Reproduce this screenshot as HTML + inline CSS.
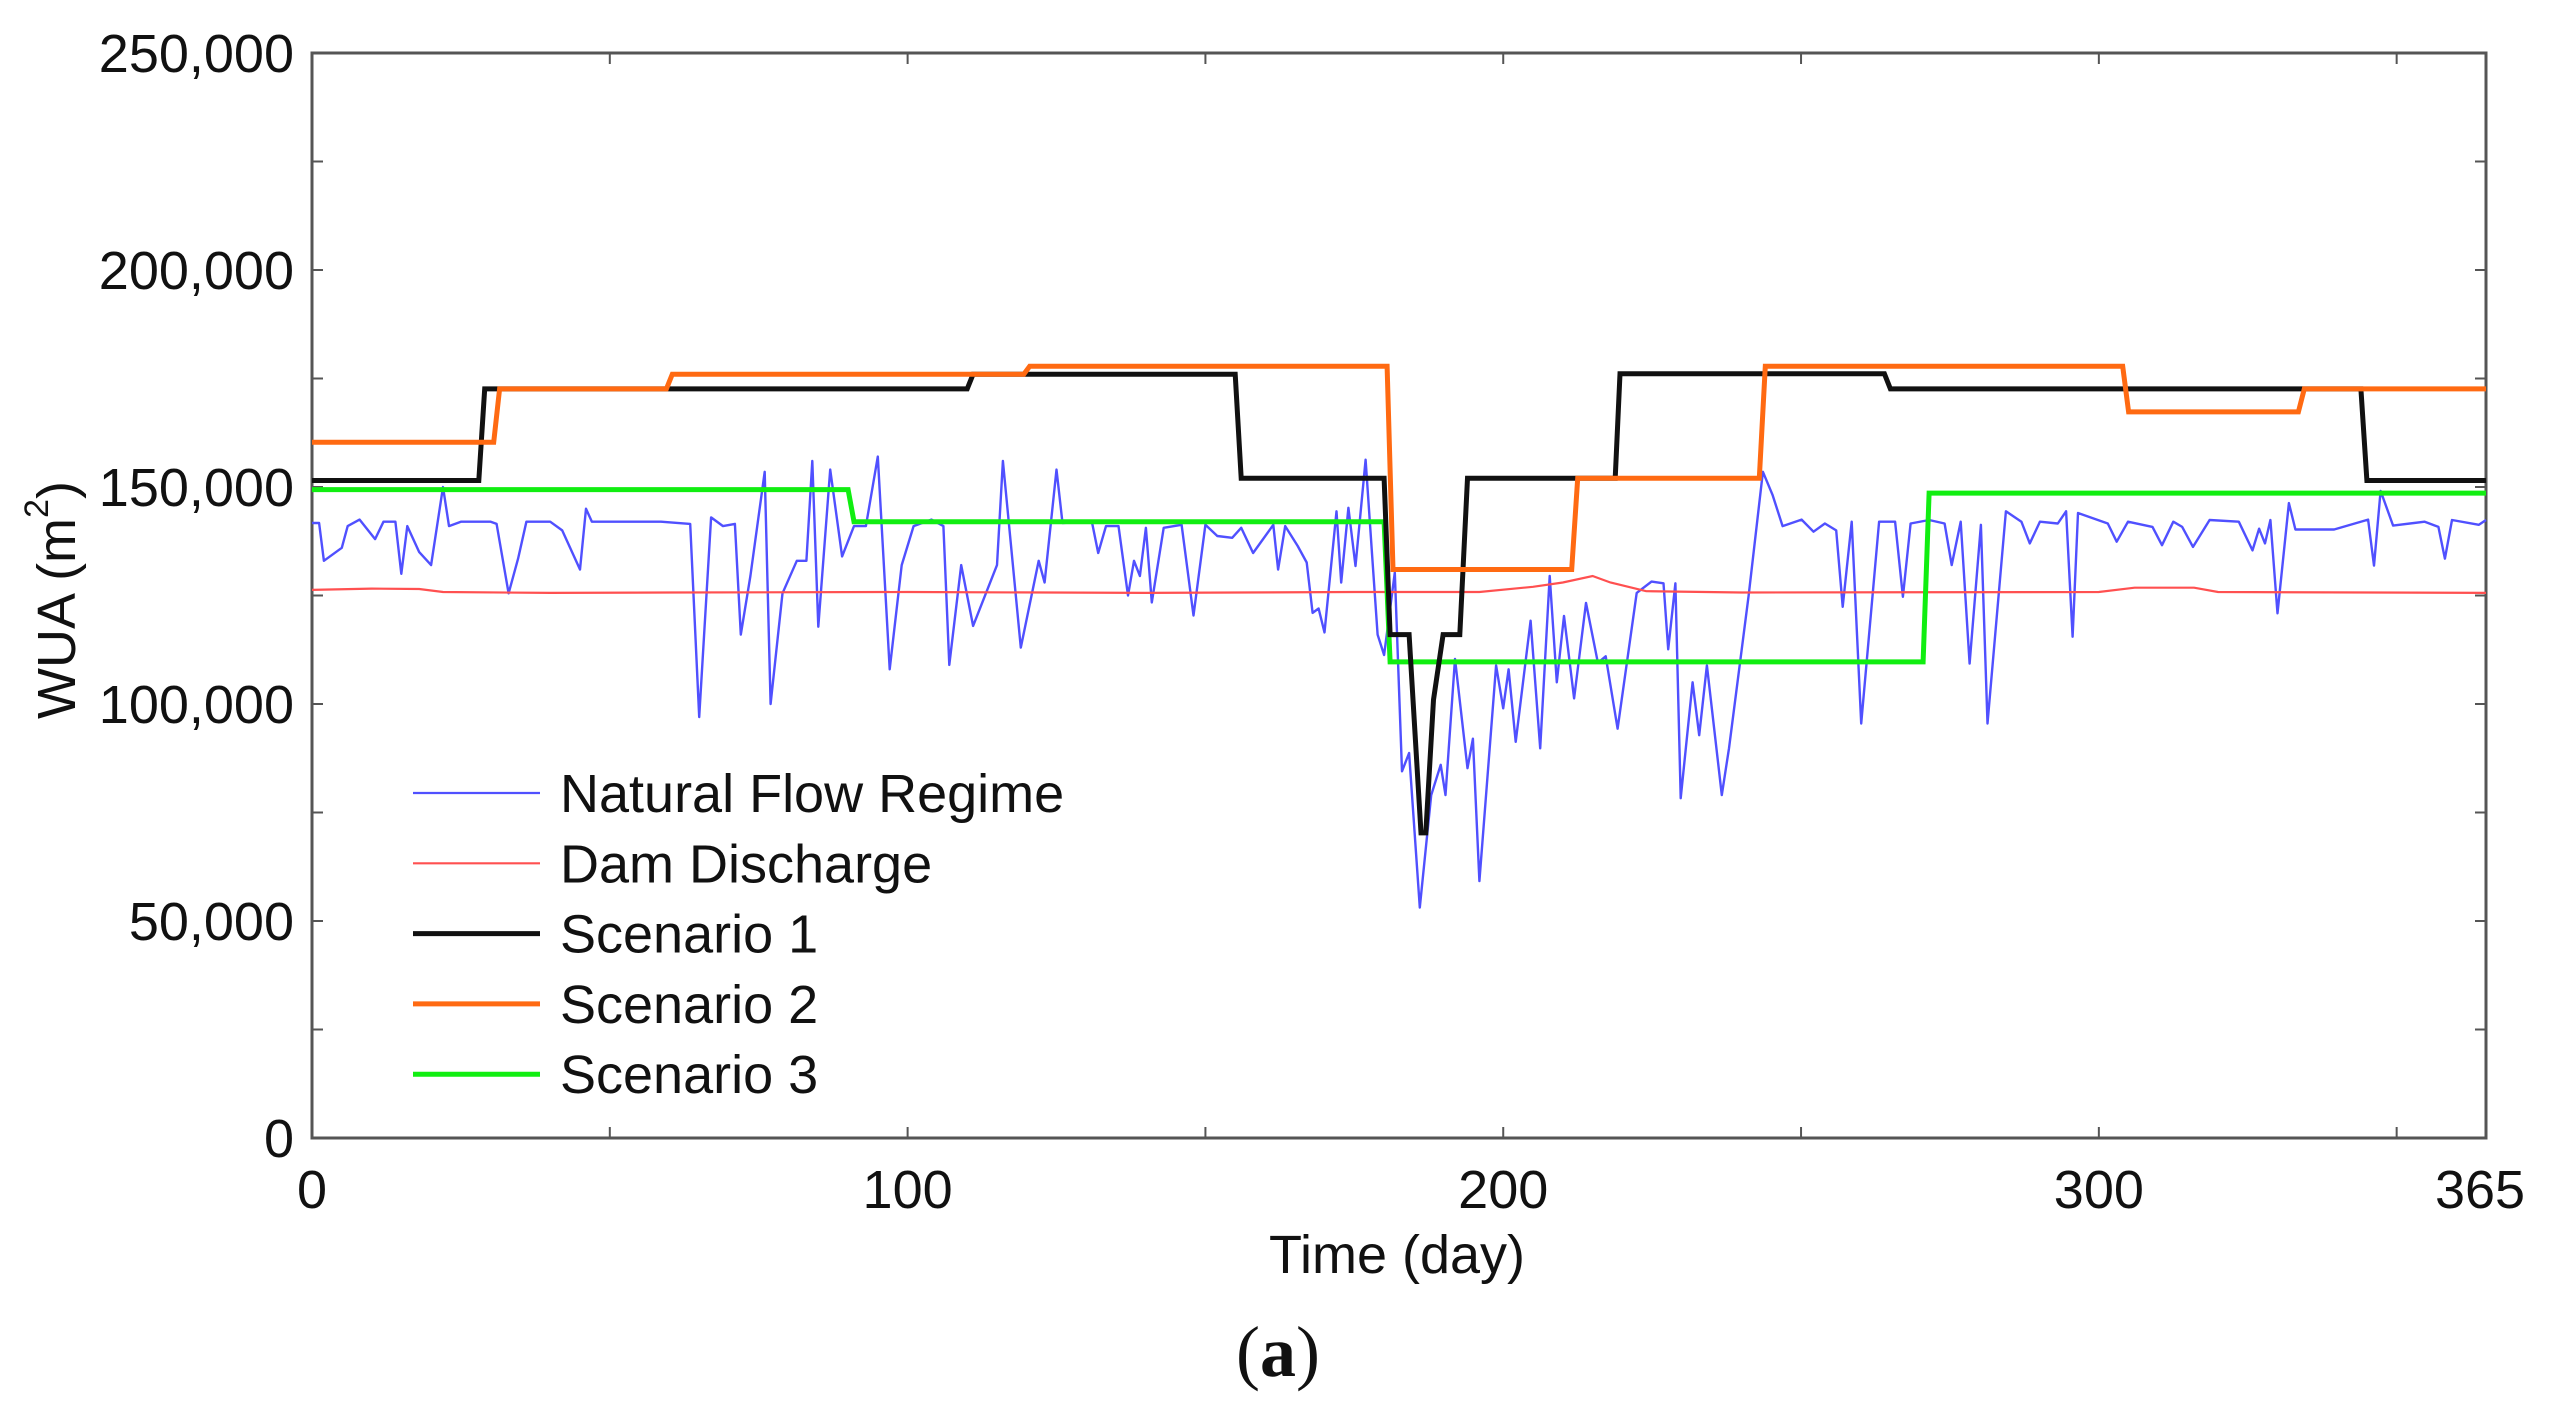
<!DOCTYPE html>
<html><head><meta charset="utf-8"><style>
html,body{margin:0;padding:0;background:#fff;}
svg{display:block;font-family:"Liberation Sans",sans-serif;}
</style></head><body>
<svg id="chart" width="2558" height="1419" viewBox="0 0 2558 1419">
<g id="axes"></g>
<g id="series"></g>
<g id="legend"></g>
<text x="57" y="600" transform="rotate(-90 57 600)" text-anchor="middle" dominant-baseline="central" font-size="54" fill="#111">WUA (m<tspan font-size="34" dy="-20">2</tspan><tspan dy="20">)</tspan></text>
<text x="1397" y="1273" text-anchor="middle" font-size="54" fill="#111">Time (day)</text>
<text x="1278" y="1376" text-anchor="middle" font-size="72" fill="#111" font-family="Liberation Serif, serif">(<tspan font-weight="bold">a</tspan>)</text>
</svg>
<script>
const xTicks=[0,100,200,300,365];
const xMinor=[50,150,250,350];
const yTicks=[0,50000,100000,150000,200000,250000];
const yTickLabels=["0","50,000","100,000","150,000","200,000","250,000"];
const yMinor=[25000,75000,125000,175000,225000];

const nfDays=[0,1.2,2,5,6,8,10.6,12,14,15,16,18,20,22,23,25,30,31,33,34.6,36,40,42,45,46,47,58.6,63.5,65,67,69,71,72,73.6,76,77,79,81.4,83,84,85,87,89,91,93,95,97,99,101,104,106,107,109,111,115,116,119,122,123,125,126,130.9,132,133.3,135.4,137,138,139,140,141,143,146,148,150,152,154.5,156,158,161.4,162.2,163.4,165.5,167,168,169,170,172,172.8,174,175.2,176.9,178,178.9,180,181.8,183,184.2,186,187.9,189.5,190.3,191.9,194,194.9,196,198.8,200,200.9,202.1,204.6,206.2,207.8,209,210.2,211.9,213.9,215.9,217.2,219.2,222.4,224.9,226.9,227.7,228.9,229.8,231.8,232.9,234.2,236.7,237.9,241.2,243.6,245.2,246.9,250.1,252.1,254,255.9,257,258.5,260.1,263.1,265.8,267.1,268.4,271.5,274.1,275.3,276.8,278.3,280.2,281.3,284.4,287,288.4,290.1,293.1,294.5,295.6,296.5,301.5,303,304.9,309,310.6,312.5,314,315.8,318.6,323.5,325.8,326.9,327.9,328.8,330,331.9,333,339.5,345.2,346.2,347.3,349.4,354.7,357,358.1,359.3,363.8,365];
const nfVals=[141.7,141.7,133,136,141,142.5,138,142,142,130,141,135,132,150,141,142,142,141.5,125.5,133.5,142,142,140,131,145,142,142,141.5,97,143,141,141.5,116,129.5,153.5,100,125.5,133,133,156,117.8,154,134,141,141,157,108,132,141,142.5,141,109,132,118,132,156,113,133,128,154,141.7,142.2,134.8,141,141,125,133,129.5,140.6,123.4,140.6,141.3,120.4,141.3,138.7,138.3,140.6,134.8,141.3,131,141,136.4,132.6,121,122,116.5,144.4,128,145.2,131.8,156.3,134,116,111.3,130.3,84.5,88.7,53.1,79,86,79,110.4,85.2,92,59.2,108.9,99,108,91.3,119.2,89.8,129.5,105,120.3,101.3,123.3,109.5,111,94.3,125.6,128.2,127.8,112.6,127.8,78.3,105,92.8,108.9,79,89.8,124.9,153.5,148.2,141,142.5,139.7,141.6,140,122.4,142,95.5,142,142,124.7,141.6,142.4,141.6,132,142,109.3,141.3,95.5,144.4,142,137,142,141.6,144.4,115.5,144,141.6,137.4,142,140.8,136.6,142,140.8,136.2,142.4,142,135.4,140.4,137,142.4,120.9,146.3,140.2,140.2,142.5,131.9,149.1,141.1,142,140.8,133.5,142.4,141.3,142.4];

const ddDays=[0,10,18,22,40,60,100,140,175,196,205,210,215,218,221,224,240,300,306,316,320,365];
const ddVals=[126.3,126.6,126.5,125.8,125.6,125.7,125.8,125.6,125.8,125.8,127,128,129.5,128,127,126,125.7,125.8,126.8,126.8,125.8,125.6];

const s1Days=[0,28,29,110,111,155,156,180,181,184.2,186.2,187,188.3,189.9,192.7,194,218.8,219.6,264,265,344,345,365];
const s1Vals=[151.5,151.5,172.6,172.6,176,176,152,152,116,116,70.3,70.3,101,116,116,152,152,176.1,176.1,172.6,172.6,151.5,151.5];

const s2Days=[0,30.5,31.5,59.5,60.5,119.5,120.5,180.5,181.5,211.5,212.5,243,244,304,305,333.5,334.5,365];
const s2Vals=[160.3,160.3,172.6,172.6,176,176,177.8,177.8,131,131,152,152,177.8,177.8,167.3,167.3,172.6,172.6];

const s3Days=[0,90,91,180,181,270.5,271.5,365];
const s3Vals=[149.4,149.4,142,142,109.7,109.7,148.6,148.6];

const legendLabels=["Natural Flow Regime","Dam Discharge","Scenario 1","Scenario 2","Scenario 3"];

const NS="http://www.w3.org/2000/svg";
const L=312,R=2486,T=53,B=1138;
const xS=d=>L+d/365*(R-L);
const yS=v=>B-v/250000*(B-T);
function mk(tag,attrs,parent){const e=document.createElementNS(NS,tag);for(const k in attrs)e.setAttribute(k,attrs[k]);parent.appendChild(e);return e;}
const axes=document.getElementById('axes');
const series=document.getElementById('series');
const legend=document.getElementById('legend');

const frame=mk('rect',{x:L,y:T,width:R-L,height:B-T,fill:'none',stroke:'#555',"stroke-width":3},axes);



xTicks.concat(xMinor).forEach(d=>{
  const x=xS(d);
  const t1=mk('line',{x1:x,x2:x,y1:B,y2:B-11,stroke:'#555',"stroke-width":2},axes);
  
  
  const t2=mk('line',{x1:x,x2:x,y1:T,y2:T+11,stroke:'#555',"stroke-width":2},axes);
  
  
});
xTicks.forEach(d=>{
  const tx=mk('text',{x:d===365?xS(d)-6:xS(d),y:1208,"text-anchor":"middle","font-size":54,fill:'#111'},axes);
  tx.textContent=String(d);
  
  
});
yTicks.concat(yMinor).forEach(v=>{
  const y=yS(v);
  const t1=mk('line',{x1:L,x2:L+11,y1:y,y2:y,stroke:'#555',"stroke-width":2},axes);
  
  
  const t2=mk('line',{x1:R,x2:R-11,y1:y,y2:y,stroke:'#555',"stroke-width":2},axes);
  
  
});
yTicks.forEach((v,i)=>{
  const ty=mk('text',{x:294,y:yS(v)+19,"text-anchor":"end","font-size":54,fill:'#111'},axes);
  ty.textContent=yTickLabels[i];
  
  
});

function pts(days,vals,mult){return days.map((d,i)=>xS(d).toFixed(1)+','+yS(vals[i]*mult).toFixed(1)).join(' ');}
const nf=mk('polyline',{points:pts(nfDays,nfVals,1000),fill:'none',stroke:'#5050ff',"stroke-width":2.4,"stroke-linejoin":"round"},series);


const dd=mk('polyline',{points:pts(ddDays,ddVals,1000),fill:'none',stroke:'#ff5050',"stroke-width":2.2},series);


const s3=mk('polyline',{points:pts(s3Days,s3Vals,1000),fill:'none',stroke:'#11ee11',"stroke-width":5},series);


const s1=mk('polyline',{points:pts(s1Days,s1Vals,1000),fill:'none',stroke:'#111',"stroke-width":5},series);


const s2=mk('polyline',{points:pts(s2Days,s2Vals,1000),fill:'none',stroke:'#ff6a12',"stroke-width":5},series);



const legColors=['#5050ff','#ff5050','#111','#ff6a12','#11ee11'];
const legWidths=[2.2,2.2,5,5,5];
legendLabels.forEach((lab,i)=>{
  const y=793+i*70.3;
  const ln=mk('line',{x1:413,x2:540,y1:y,y2:y,stroke:legColors[i],"stroke-width":legWidths[i]},legend);
  
  
  const tx=mk('text',{x:560,y:y+19,"font-size":54,fill:'#111'},legend);
  tx.textContent=lab;
  
  
});
</script>
</body></html>
